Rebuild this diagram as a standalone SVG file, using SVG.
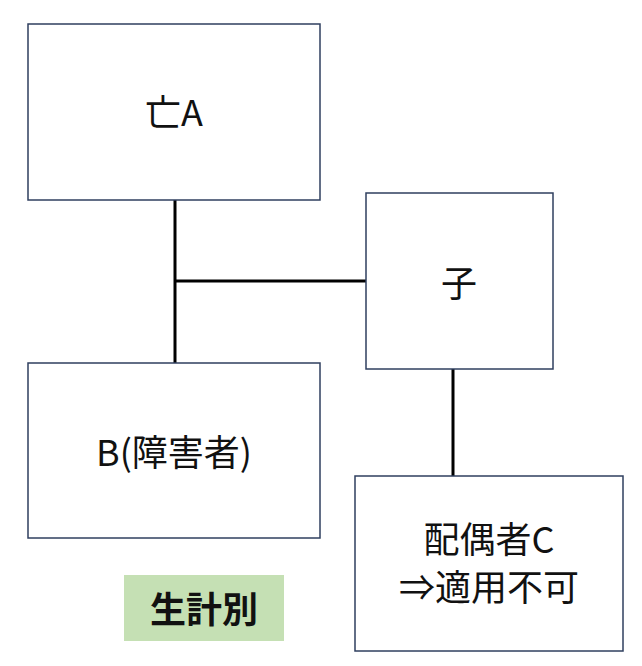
<svg xmlns="http://www.w3.org/2000/svg" width="642" height="666" viewBox="0 0 642 666">
<style>
.n{fill:#fff;stroke:#2f3f5f;stroke-width:1.5}
.t{font-family:"Noto Sans CJK JP","Noto Sans",sans-serif;font-size:36px;fill:#111;text-anchor:middle;dominant-baseline:central}
.c{stroke:#000;stroke-width:3;fill:none}
</style>
<rect width="642" height="666" fill="#fff"/>
<g id="connectors">
<path class="c" d="M175 200V363M175 281H366M453 369V476"/>
</g>
<g id="nodeA"><rect class="n" x="28" y="24" width="292" height="176"/><text class="t" x="174" y="110">亡A</text></g>
<g id="nodeChild"><rect class="n" x="366" y="193" width="187" height="176"/><text class="t" x="459" y="281">子</text></g>
<g id="nodeB"><rect class="n" x="28" y="363" width="292" height="175"/><text class="t" x="174" y="450">B(障害者)</text></g>
<g id="nodeC"><rect class="n" x="355" y="476" width="268" height="175"/><text class="t" x="489" y="537">配偶者C</text><text class="t" x="489" y="585">⇒適用不可</text></g>
<g id="label"><rect x="124" y="575" width="160" height="66" fill="#c5e0b4"/><text class="t" x="204" y="607" style="font-weight:bold">生計別</text></g>
</svg>
